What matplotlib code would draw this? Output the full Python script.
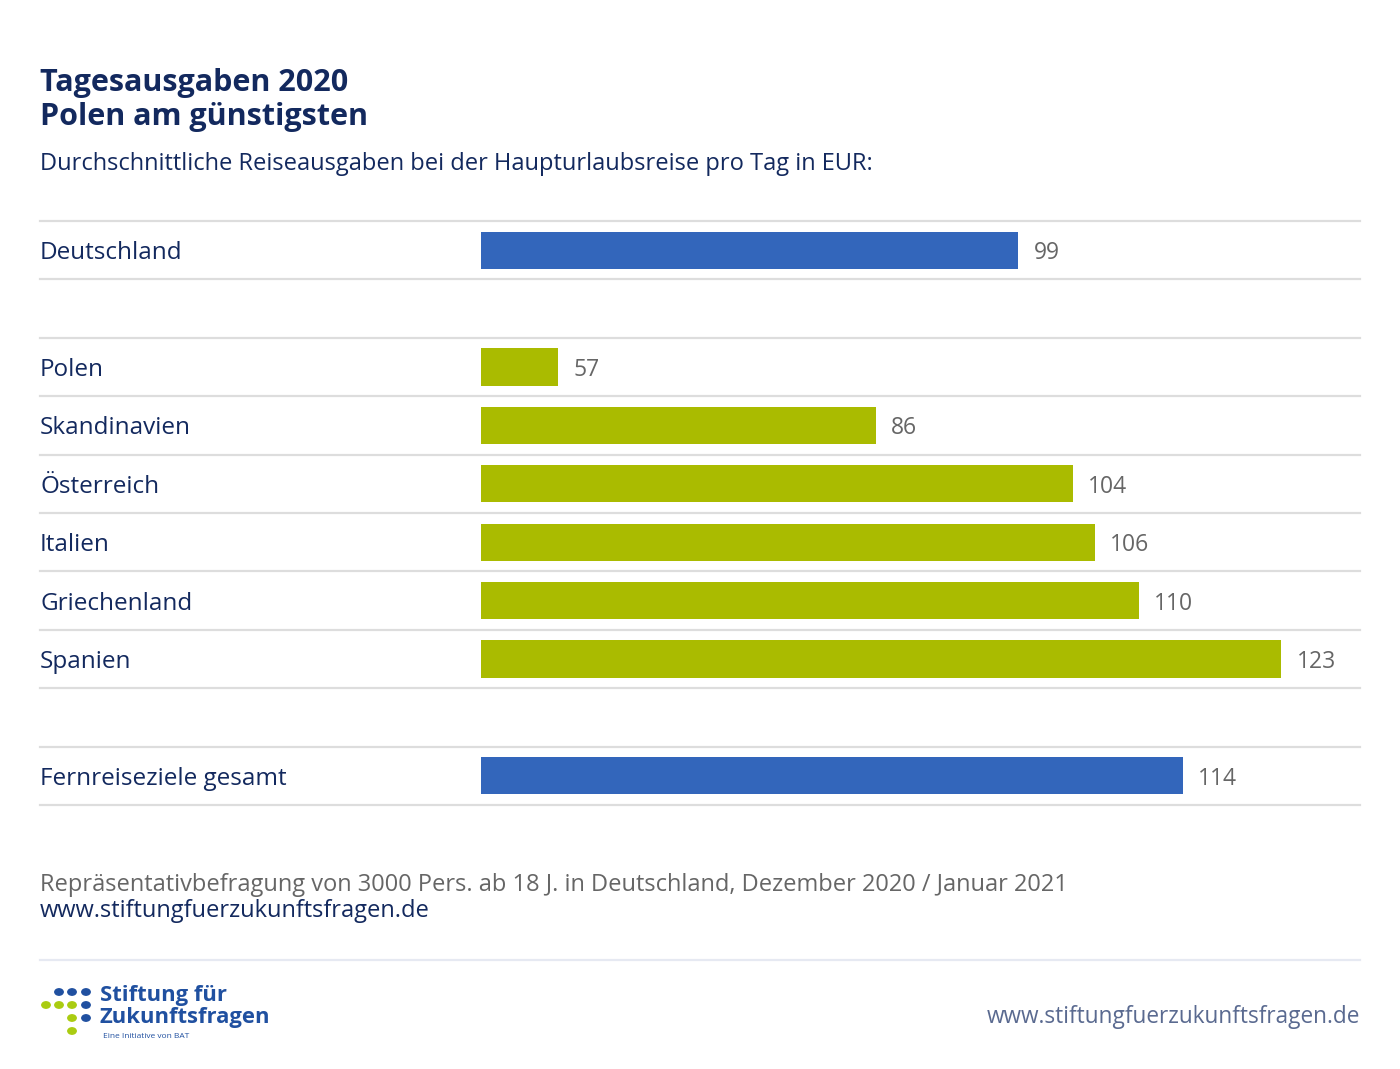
import matplotlib
matplotlib.use("Agg")
import matplotlib.pyplot as plt
from matplotlib.transforms import blended_transform_factory

plt.rcParams['font.family'] = ['Open Sans', 'DejaVu Sans']

# data (empty strings are spacer rows)
labels = ["Deutschland", "", "Polen", "Skandinavien", "Österreich", "Italien",
          "Griechenland", "Spanien", "", "Fernreiseziele gesamt"]
values = [99, None, 57, 86, 104, 106, 110, 123, None, 114]
groups = ["de", None, "eu", "eu", "eu", "eu", "eu", "eu", None, "far"]

title = "Tagesausgaben 2020\nPolen am günstigsten"
subtitle = "Durchschnittliche Reiseausgaben bei der Haupturlaubsreise pro Tag in EUR:"
source = "Repräsentativbefragung von 3000 Pers. ab 18 J. in Deutschland, Dezember 2020 / Januar 2021"
url = "www.stiftungfuerzukunftsfragen.de"

NAVY = "#13295e"
BLUE = "#3366bb"
GREEN = "#aabb00"
GRID = "#dddddd"
GRAY = "#666666"
colors = {"de": BLUE, "eu": GREEN, "far": BLUE}

W, H = 1400, 1069
fig = plt.figure(figsize=(W / 100, H / 100), dpi=100)
fig.patch.set_facecolor("white")

def fx(px):
    return px / W

def fy(py):
    return 1 - py / H

# bar axes: x from 481 to 1358 px, rows from 221 to 805 px
ax = fig.add_axes([fx(481), fy(805), fx(1358) - fx(481), fy(221) - fy(805)])
ax.set_xlim(50, 130)
ax.set_ylim(len(labels), 0)
ax.axis("off")

base = 50
for i, (lab, v, g) in enumerate(zip(labels, values, groups)):
    yc = i + 0.5
    if v is not None:
        ax.barh(yc, v - base, left=base, height=0.64, color=colors[g])
        ax.text(v + 1.4, yc + 0.05, str(v), va="center", ha="left",
                fontsize=16.5, color=GRAY)
    if lab:
        fig.text(fx(40), fy(224 + 58.4 * yc), lab, va="center", ha="left",
                 fontsize=17.5, color=NAVY)

# row separators across the full width
trans = blended_transform_factory(fig.transFigure, ax.transData)
for i in range(len(labels) + 1):
    ax.plot([fx(40), fx(1360)], [i, i], transform=trans, color=GRID,
            lw=1.6, clip_on=False, zorder=0)

# header
fig.text(fx(40), fy(100), title, va="center", ha="left", fontsize=22,
         fontweight="bold", color=NAVY, linespacing=1.2)
fig.text(fx(40), fy(164), subtitle, va="center", ha="left", fontsize=17,
         color=NAVY)

# footer
fig.text(fx(40), fy(885), source, va="center", ha="left", fontsize=17,
         color=GRAY)
fig.text(fx(40), fy(911), url, va="center", ha="left", fontsize=17,
         color=NAVY)
fig.add_artist(plt.Line2D([fx(40), fx(1360)], [fy(960), fy(960)],
                          color="#e6e9f2", lw=1.6))
fig.text(fx(1360), fy(1017), url, va="center", ha="right", fontsize=16.3,
         color="#5a6a90")

# logo
dot_blue = "#2050a0"
dot_green = "#aacc11"
dots = [(59, 992, dot_blue), (72, 992, dot_blue), (86, 992, dot_blue),
        (46, 1005, dot_green), (59, 1005, dot_green), (72, 1005, dot_green),
        (86, 1005, dot_blue), (72, 1018, dot_green), (86, 1018, dot_blue),
        (72, 1031, dot_green)]
for dx, dy, c in dots:
    fig.add_artist(matplotlib.patches.Circle((fx(dx), fy(dy)), radius=4.2 / W,
                                             color=c, transform=fig.transFigure))
fig.text(fx(100), fy(996), "Stiftung für", va="center", ha="left",
         fontsize=15.8, fontweight="bold", color="#2050a0")
fig.text(fx(100), fy(1017), "Zukunftsfragen", va="center", ha="left",
         fontsize=15.8, fontweight="bold", color="#2050a0")
fig.text(fx(103), fy(1036), "Eine Initiative von BAT", va="center", ha="left",
         fontsize=6, color="#2050a0")

fig.savefig("out.png", dpi=100)
